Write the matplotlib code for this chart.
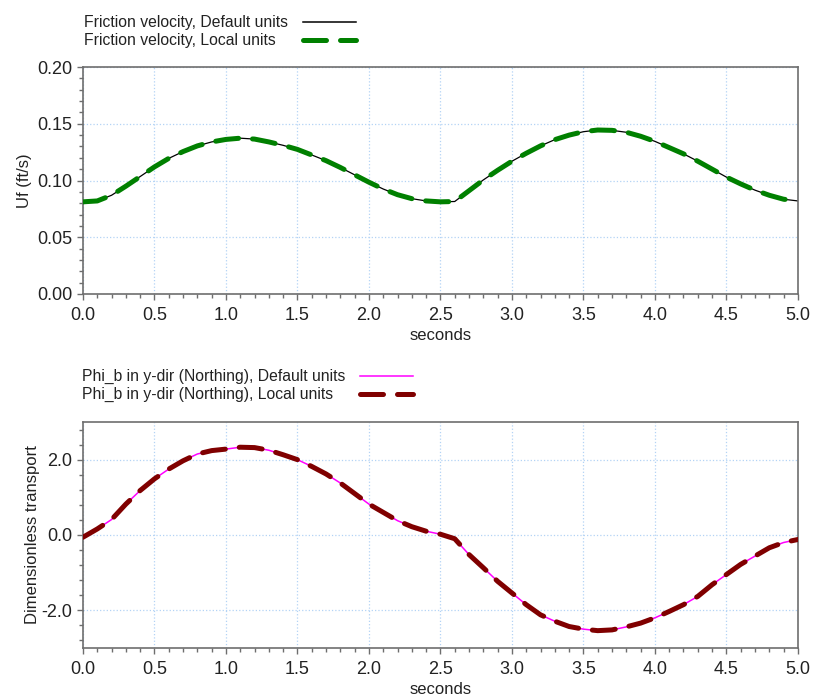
import matplotlib
matplotlib.use("Agg")
import matplotlib.pyplot as plt
from matplotlib.lines import Line2D
from matplotlib.ticker import MultipleLocator, FormatStrFormatter

plt.rcParams['font.family'] = ['Liberation Sans', 'DejaVu Sans']

# time axis (seconds), sampled every 0.1 s
seconds = [round(0.1 * i, 1) for i in range(51)]

# friction velocity (ft/s), both unit systems give the same curve
uf_default = [0.0812, 0.0820, 0.0870, 0.0950, 0.1035, 0.1120, 0.1195, 0.1255, 0.1305, 0.1340,
              0.1362, 0.1373, 0.1365, 0.1340, 0.1310, 0.1274, 0.1225, 0.1175, 0.1115, 0.1050,
              0.0985, 0.0925, 0.0875, 0.0840, 0.0820, 0.0812, 0.0815, 0.0910, 0.1005, 0.1090,
              0.1170, 0.1240, 0.1305, 0.1360, 0.1400, 0.1430, 0.1445, 0.1442, 0.1425, 0.1390,
              0.1345, 0.1290, 0.1235, 0.1170, 0.1100, 0.1030, 0.0970, 0.0915, 0.0870, 0.0835,
              0.0820]
uf_local = list(uf_default)

# dimensionless transport, y-dir (Northing)
phi_default = [-0.06, 0.16, 0.41, 0.82, 1.18, 1.49, 1.75, 1.97, 2.15, 2.24,
               2.28, 2.33, 2.32, 2.25, 2.13, 2.00, 1.82, 1.62, 1.38, 1.10,
               0.82, 0.60, 0.38, 0.22, 0.10, 0.02, -0.10, -0.52, -0.87, -1.23,
               -1.54, -1.85, -2.12, -2.29, -2.43, -2.50, -2.54, -2.52, -2.44, -2.34,
               -2.20, -2.03, -1.85, -1.63, -1.32, -1.05, -0.78, -0.56, -0.34, -0.20,
               -0.12]
phi_local = list(phi_default)

labels_top = ['Friction velocity, Default units', 'Friction velocity, Local units']
labels_bot = ['Phi_b in y-dir (Northing), Default units', 'Phi_b in y-dir (Northing), Local units']

frame_col = '#6e6e6e'
grid_col = '#b3d3f5'
text_col = '#222222'
dash = (0, (4.6, 2.8))

fig = plt.figure(figsize=(8.15, 6.96), dpi=100)
ax1 = fig.add_axes([0.1018, 0.5776, 0.8772, 0.3261])
ax2 = fig.add_axes([0.1018, 0.0690, 0.8772, 0.3247])

ax1.plot(seconds, uf_default, color='black', linewidth=0.9, zorder=2)
ax1.plot(seconds, uf_local, color='#008000', linewidth=3.6, linestyle=dash,
         dash_capstyle='round', zorder=3)
ax2.plot(seconds, phi_default, color='#ff00ff', linewidth=1.1, zorder=2)
ax2.plot(seconds, phi_local, color='#800000', linewidth=3.6, linestyle=dash,
         dash_capstyle='round', zorder=3)

for ax in (ax1, ax2):
    ax.set_xlim(0, 5)
    ax.xaxis.set_major_locator(MultipleLocator(0.5))
    ax.xaxis.set_minor_locator(MultipleLocator(0.1))
    ax.xaxis.set_major_formatter(FormatStrFormatter('%.1f'))
    ax.grid(True, which='major', color=grid_col, linestyle=':', linewidth=0.9)
    ax.set_axisbelow(True)
    for s in ax.spines.values():
        s.set_color(frame_col)
        s.set_linewidth(1.2)
    ax.tick_params(which='major', direction='out', length=4.5, width=1, color=frame_col,
                   labelsize=13, pad=3, labelcolor=text_col)
    ax.tick_params(axis='x', which='major', pad=5)
    ax.tick_params(which='minor', direction='out', length=3, width=1, color=frame_col)
    ax.set_xlabel('seconds', fontsize=12, labelpad=3, color=text_col)

ax1.set_ylim(0, 0.2)
ax1.yaxis.set_major_locator(MultipleLocator(0.05))
ax1.yaxis.set_minor_locator(MultipleLocator(0.01))
ax1.yaxis.set_major_formatter(FormatStrFormatter('%.2f'))
ax1.set_ylabel('Uf (ft/s)', fontsize=12, color=text_col)

ax2.set_ylim(-3, 3)
ax2.yaxis.set_major_locator(MultipleLocator(2.0))
ax2.yaxis.set_minor_locator(MultipleLocator(0.4))
ax2.yaxis.set_major_formatter(FormatStrFormatter('%.1f'))
ax2.set_ylabel('Dimensionless transport', fontsize=12, color=text_col, labelpad=1.5)


# legends above each panel: text left-aligned, key to the right
def draw_key(x_text, x0, x1, y, label, **line_kw):
    fig.text(x_text, y, label, fontsize=11.3, va='center', ha='left', color=text_col)
    fig.add_artist(Line2D([x0, x1], [y, y], transform=fig.transFigure, **line_kw))


draw_key(0.103, 0.372, 0.437, 0.968, labels_top[0], color='black', linewidth=1.1)
draw_key(0.103, 0.372, 0.437, 0.9425, labels_top[1], color='#008000', linewidth=3.6,
         linestyle=dash, dash_capstyle='round')
draw_key(0.1006, 0.4417, 0.5067, 0.4598, labels_bot[0], color='#ff00ff', linewidth=1.1)
draw_key(0.1006, 0.4417, 0.5067, 0.4339, labels_bot[1], color='#800000', linewidth=3.6,
         linestyle=dash, dash_capstyle='round')

fig.savefig('out.png', dpi=100)
